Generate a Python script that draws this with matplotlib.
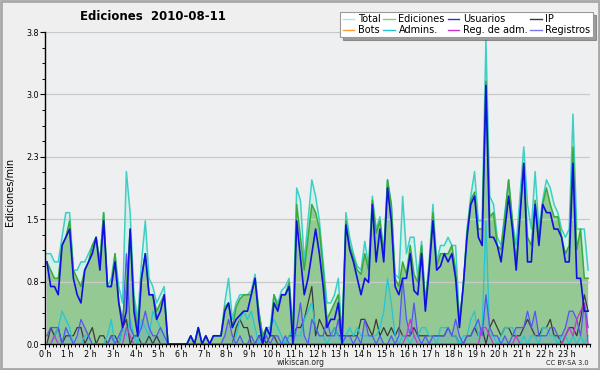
import matplotlib
matplotlib.use('Agg')
import matplotlib.pyplot as plt
from matplotlib.lines import Line2D
from matplotlib.patches import Rectangle
from matplotlib.ticker import FixedLocator, MultipleLocator
import numpy as np

hour_labels = [f"{h} h" for h in range(24)]
y_ticks = [0.0, 0.76, 1.52, 2.28, 3.04, 3.8]
y_tick_labels = ["0.0", "0.8", "1.5", "2.3", "3.0", "3.8"]

# values per 10-minute bin (6 per hour)
total = [1.1, 1.1, 1.0, 1.0, 1.3, 1.6,  1.6, 0.9, 0.9, 1.0, 1.0, 1.1,
         1.2, 1.3, 1.0, 1.6, 0.7, 0.8,  1.1, 0.7, 0.5, 2.1, 1.6, 0.6,
         0.3, 1.0, 1.5, 0.8, 0.7, 0.5,  0.6, 0.7, 0, 0, 0, 0,
         0, 0, 0.1, 0, 0.2, 0,  0.1, 0, 0.1, 0.1, 0.1, 0.5,
         0.8, 0.3, 0.5, 0.6, 0.6, 0.6,  0.65, 0.85, 0.4, 0.1, 0.2, 0.2,
         0.6, 0.5, 0.65, 0.7, 0.8, 0.2,  1.9, 1.75, 1.0, 1.5, 2.0, 1.8,
         1.5, 1.0, 0.5, 0.5, 0.6, 0.8,  0.1, 1.6, 1.3, 1.1, 0.95, 0.9,
         1.25, 0.95, 1.8, 1.4, 1.55, 1.1,  2.0, 1.7, 0.85, 0.8, 1.8, 1.1,
         1.3, 1.3, 0.8, 1.25, 0.5, 1.0,  1.7, 1.0, 1.2, 1.2, 1.3, 1.2,
         1.2, 0.3, 0.7, 1.4, 1.8, 2.1,  1.5, 1.5, 3.7, 1.8, 1.7, 1.3,
         1.2, 1.6, 2.0, 1.5, 1.2, 1.8,  2.4, 1.7, 1.4, 2.1, 1.4, 1.75,
         2.0, 1.9, 1.7, 1.6, 1.4, 1.3,  1.4, 2.8, 1.4, 1.4, 1.4, 0.9]

ediciones = [1.0, 0.9, 0.8, 0.8, 1.2, 1.3,  1.5, 0.9, 0.8, 0.7, 0.9, 1.0,
             1.2, 1.3, 1.0, 1.6, 0.7, 0.7,  1.1, 0.5, 0.3, 0.7, 1.4, 0.5,
             0.2, 0.8, 1.1, 0.6, 0.6, 0.4,  0.5, 0.6, 0, 0, 0, 0,
             0, 0, 0.1, 0, 0.2, 0,  0.1, 0, 0.1, 0.1, 0.1, 0.45,
             0.5, 0.2, 0.45, 0.55, 0.6, 0.6,  0.6, 0.8, 0.4, 0.1, 0.2, 0.1,
             0.6, 0.45, 0.6, 0.6, 0.75, 0.1,  1.7, 1.3, 0.9, 1.3, 1.7, 1.6,
             1.4, 0.9, 0.3, 0.4, 0.5, 0.6,  0.1, 1.5, 1.2, 1.05, 0.9, 0.85,
             1.1, 0.9, 1.75, 1.35, 1.5, 1.1,  2.0, 1.7, 0.8, 0.7, 1.0, 0.85,
             1.2, 0.85, 0.75, 1.2, 0.5, 0.95,  1.6, 0.95, 1.1, 1.1, 1.1, 1.2,
             0.9, 0.25, 0.7, 1.35, 1.75, 1.85,  1.4, 1.4, 3.2, 1.55, 1.6, 1.2,
             1.15, 1.55, 2.0, 1.5, 1.0, 1.6,  2.2, 1.3, 1.2, 1.75, 1.3, 1.7,
             1.9, 1.7, 1.55, 1.55, 1.3, 1.1,  1.2, 2.4, 1.15, 1.4, 0.8, 0.8]

usuarios = [1.0, 0.7, 0.7, 0.6, 1.2, 1.3,  1.4, 0.8, 0.6, 0.5, 0.9, 1.0,
            1.1, 1.3, 0.9, 1.5, 0.7, 0.7,  1.0, 0.5, 0.2, 0.4, 1.4, 0.4,
            0.1, 0.8, 1.1, 0.6, 0.6, 0.3,  0.4, 0.6, 0, 0, 0, 0,
            0, 0, 0.1, 0, 0.2, 0,  0.1, 0, 0.1, 0.1, 0.1, 0.4,
            0.5, 0.2, 0.3, 0.35, 0.4, 0.4,  0.6, 0.8, 0.3, 0.0, 0.2, 0.1,
            0.5, 0.4, 0.6, 0.6, 0.7, 0.0,  1.5, 1.05, 0.6, 0.8, 1.1, 1.4,
            1.1, 0.7, 0.2, 0.3, 0.3, 0.5,  0.0, 1.45, 1.15, 1.0, 0.8, 0.6,
            0.8, 0.75, 1.7, 1.0, 1.4, 1.0,  1.9, 1.5, 0.7, 0.6, 0.8, 0.8,
            1.1, 0.65, 0.6, 1.1, 0.4, 0.9,  1.5, 0.9, 0.95, 1.1, 1.0, 1.1,
            0.8, 0.2, 0.7, 1.3, 1.7, 1.8,  1.3, 1.2, 3.15, 1.3, 1.3, 1.2,
            1.0, 1.4, 1.8, 1.4, 0.9, 1.55,  2.2, 1.0, 1.0, 1.7, 1.2, 1.7,
            1.6, 1.6, 1.4, 1.4, 1.3, 1.0,  1.0, 2.2, 0.8, 0.8, 0.4, 0.4]

ip = [0, 0.2, 0.1, 0.2, 0, 0.1,  0.1, 0.1, 0.2, 0.2, 0, 0.1,
      0.2, 0, 0.1, 0.1, 0, 0.1,  0.1, 0, 0.2, 0.3, 0, 0.1,
      0.1, 0, 0, 0.1, 0, 0.1,  0, 0, 0, 0, 0, 0,
      0, 0, 0, 0, 0, 0,  0, 0, 0, 0, 0, 0,
      0, 0, 0.2, 0.3, 0.2, 0.2,  0, 0, 0.1, 0.1, 0, 0.1,
      0.1, 0, 0, 0, 0.1, 0.1,  0.2, 0.2, 0.3, 0.5, 0.7, 0.1,
      0.3, 0.2, 0.1, 0.1, 0.2, 0.1,  0.1, 0.1, 0.1, 0.1, 0.1, 0.3,
      0.3, 0.2, 0.1, 0.3, 0.1, 0.2,  0.1, 0.2, 0.1, 0.2, 0.1, 0.1,
      0.1, 0.2, 0.1, 0.1, 0.1, 0.1,  0.1, 0.1, 0.1, 0.1, 0.2, 0.1,
      0.1, 0, 0, 0.1, 0.1, 0.2,  0.1, 0.2, 0.0, 0.2, 0.3, 0.2,
      0.1, 0.2, 0.2, 0.1, 0.1, 0.1,  0.2, 0.3, 0.2, 0.1, 0.1, 0.2,
      0.2, 0.3, 0.1, 0.1, 0.0, 0.1,  0.2, 0.2, 0.1, 0.3, 0.6, 0.4]

admins = [0, 0, 0.1, 0.2, 0.4, 0.3,  0.2, 0, 0, 0, 0.1, 0.1,
          0, 0, 0, 0, 0.1, 0.3,  0, 0, 0.2, 0.1, 0.3, 0.1,
          0, 0.3, 0.2, 0.1, 0.4, 0.3,  0.2, 0.1, 0, 0, 0, 0,
          0, 0, 0, 0, 0, 0,  0, 0, 0, 0, 0, 0,
          0, 0, 0.1, 0.3, 0.4, 0.3,  0.4, 0.2, 0, 0.1, 0.1, 0.2,
          0.3, 0.2, 0.1, 0, 0.1, 0.2,  0.1, 0.1, 0.3, 0.4, 0.5, 0.2,
          0.1, 0.1, 0, 0.1, 0.2, 0.1,  0, 0.1, 0.2, 0.1, 0.2, 0.1,
          0.1, 0.1, 0.1, 0.1, 0.2, 0.4,  0.8, 0.5, 0.1, 0, 0.1, 0.1,
          0, 0.1, 0.1, 0.2, 0.2, 0.1,  0.1, 0, 0.2, 0.2, 0.2, 0.1,
          0.1, 0, 0.1, 0.1, 0.3, 0.4,  0.1, 0.2, 1.5, 0.1, 0.1, 0,
          0.1, 0.2, 0.2, 0.2, 0.1, 0,  0.1, 0, 0.1, 0.1, 0, 0.2,
          0.2, 0.1, 0.1, 0, 0.1, 0.1,  0, 0.1, 0, 0.1, 0, 0.1]

registros = [0.1, 0.2, 0.2, 0.2, 0.0, 0.2,  0.1, 0.0, 0.1, 0.3, 0.2, 0.1,
             0, 0, 0, 0, 0, 0.1,  0, 0.1, 0.2, 1.1, 0.2, 0.1,
             0.1, 0.2, 0.4, 0.2, 0.1, 0.1,  0.2, 0.1, 0, 0, 0, 0,
             0, 0, 0, 0, 0, 0,  0, 0, 0, 0, 0, 0.1,
             0.3, 0.1, 0, 0.1, 0, 0,  0.1, 0, 0.1, 0, 0.1, 0,
             0.1, 0.1, 0, 0.1, 0, 0,  0.2, 0.5, 0.1, 0, 0.3, 0.2,
             0.1, 0.1, 0.3, 0.1, 0.1, 0.3,  0, 0.1, 0.1, 0, 0.1, 0,
             0.3, 0.1, 0.1, 0, 0.1, 0,  0, 0.1, 0, 0.1, 0.8, 0.3,
             0.1, 0.5, 0.1, 0, 0.1, 0,  0.1, 0.1, 0.1, 0.1, 0.2, 0.1,
             0.3, 0.1, 0, 0.1, 0.1, 0.2,  0.3, 0.1, 0.6, 0.2, 0.1, 0.1,
             0, 0.1, 0, 0.1, 0.2, 0.2,  0.2, 0.4, 0.2, 0.4, 0.1, 0.1,
             0.1, 0.2, 0.2, 0.1, 0.1, 0.2,  0.4, 0.4, 0.3, 0.1, 0.5, 0.2]

reg_adm = [0, 0, 0.1, 0, 0, 0,  0, 0, 0, 0, 0, 0,
           0, 0, 0, 0, 0, 0,  0, 0, 0, 0.2, 0.1, 0,
           0, 0, 0, 0, 0, 0,  0, 0, 0, 0, 0, 0,
           0, 0, 0, 0, 0, 0,  0, 0, 0, 0, 0, 0,
           0, 0, 0, 0, 0, 0,  0, 0, 0, 0, 0, 0,
           0, 0, 0, 0, 0, 0,  0, 0, 0, 0, 0, 0,
           0, 0, 0, 0, 0, 0,  0, 0, 0, 0, 0, 0,
           0, 0, 0, 0, 0, 0,  0, 0, 0, 0, 0, 0.1,
           0.3, 0.1, 0, 0, 0, 0,  0, 0, 0, 0, 0, 0,
           0, 0, 0, 0, 0, 0,  0, 0.2, 0.2, 0.1, 0, 0,
           0, 0, 0, 0, 0.1, 0,  0, 0, 0, 0, 0, 0,
           0, 0, 0, 0, 0, 0.1,  0.2, 0.1, 0.3, 0.4, 0.5, 0]

bots = [0] * 144

n = len(total)
minutes = np.arange(n) * 10 + 5

# colours
c_total_line = '#3fcfc4'
c_total_fill = '#d4f0e8'
c_ed_line = '#3aaa3a'
c_ed_fill = '#94c994'
c_usu = '#1010e0'
c_ip = '#3a3a3a'
c_bots = '#ff9933'
c_adm = '#22c6d6'
c_regadm = '#cc33cc'
c_reg = '#5555f0'

rect = [45 / 600, 1 - 344 / 370, 545 / 600, 312 / 370]
fig = plt.figure(figsize=(6, 3.7), dpi=100)
fig.patch.set_facecolor('#efefef')

# background axes holding the filled areas and the grid
axb = fig.add_axes(rect, zorder=0)
axb.set_facecolor('#eeeff1')
axb.set_xlim(0, 1440)
axb.set_ylim(0, 3.8)
axb.set_yticks(y_ticks)
axb.yaxis.grid(True, color='#c9c9c9', lw=0.9)
axb.set_xticks([])
axb.tick_params(left=False, labelleft=False)
for s in axb.spines.values():
    s.set_visible(False)
axb.fill_between(minutes, 0, np.array(total, dtype=float), facecolor=c_total_fill,
                 edgecolor='none')
axb.fill_between(minutes, 0, np.array(ediciones, dtype=float), facecolor=c_ed_fill,
                 edgecolor='none')
axb.fill_between(minutes, 0, np.array(registros, dtype=float), facecolor=c_reg,
                 alpha=0.12, edgecolor='none')
axb.fill_between(minutes, 0, np.array(admins, dtype=float), facecolor=c_adm,
                 alpha=0.10, edgecolor='none')

# main axes with the lines, transparent background
ax = fig.add_axes(rect, zorder=1)
ax.patch.set_visible(False)
ax.plot(minutes, total, color=c_total_line, lw=1.1, zorder=2)
ax.plot(minutes, ediciones, color=c_ed_line, lw=1.1, zorder=2.1)
ax.plot(minutes, bots, color=c_bots, lw=0.9, zorder=2.2)
ax.plot(minutes, ip, color=c_ip, lw=0.9, zorder=2.3)
ax.plot(minutes, admins, color=c_adm, lw=0.9, zorder=2.4)
ax.plot(minutes, registros, color=c_reg, lw=0.9, zorder=2.5)
ax.plot(minutes, reg_adm, color=c_regadm, lw=0.9, zorder=2.6)
ax.plot(minutes, usuarios, color=c_usu, lw=1.2, zorder=2.7)
ax.set_xlim(0, 1440)
ax.set_ylim(0, 3.8)

for s in ['top', 'right']:
    ax.spines[s].set_visible(False)
for s in ['left', 'bottom']:
    ax.spines[s].set_color('black')
    ax.spines[s].set_linewidth(1.0)

ax.set_yticks(y_ticks)
ax.set_yticklabels(y_tick_labels)
ax.yaxis.set_minor_locator(FixedLocator([k * 0.19 for k in range(21)]))
ax.set_xticks([h * 60 for h in range(24)])
ax.set_xticklabels(hour_labels)
ax.xaxis.set_minor_locator(MultipleLocator(10))
ax.tick_params(axis='both', which='major', direction='out', length=3.5, width=0.8,
               labelsize=5.8, pad=1.0, colors='black')
ax.tick_params(axis='both', which='minor', direction='out', length=2.5, width=0.7)

# texts
fig.text(153 / 600, 1 - 16 / 370, "Ediciones  2010-08-11", ha='center', va='center',
         fontsize=8.5, fontweight='bold')
fig.text(10 / 600, 1 - 192 / 370, "Ediciones/min", rotation=90, ha='center', va='center',
         fontsize=7)
fig.text(301 / 600, 1 - 362.5 / 370, "wikiscan.org", ha='center', va='center', fontsize=5.5,
         color='#222222')
fig.text(589 / 600, 1 - 363 / 370, "CC BY-SA 3.0", ha='right', va='center', fontsize=4.8,
         color='#222222')

# legend
labels = ['Total', 'Bots', 'Ediciones', 'Admins.', 'Usuarios', 'Reg. de adm.', 'IP', 'Registros']
colors = ['#a8e8e0', c_bots, '#7fcf7f', c_adm, '#3333cc', c_regadm, c_ip, '#7777ee']
handles = [Line2D([0], [0], color=c, lw=1.0) for c in colors]
leg = ax.legend(handles, labels, ncol=4, loc='upper right',
                bbox_to_anchor=(593 / 600, 1 - 12 / 370), bbox_transform=fig.transFigure,
                fontsize=7, frameon=True, fancybox=False, edgecolor='#999999',
                facecolor='white', framealpha=1, shadow=True,
                handlelength=1.2, handletextpad=0.35, columnspacing=0.3, borderpad=0.25,
                labelspacing=0.05, borderaxespad=0)
leg.get_frame().set_linewidth(0.8)

fig.add_artist(Rectangle((0.002, 0.003), 0.996, 0.994, transform=fig.transFigure,
                         fill=False, edgecolor='#a8a8a8', lw=2.0))

fig.savefig('out.png', dpi=100, facecolor=fig.get_facecolor())
